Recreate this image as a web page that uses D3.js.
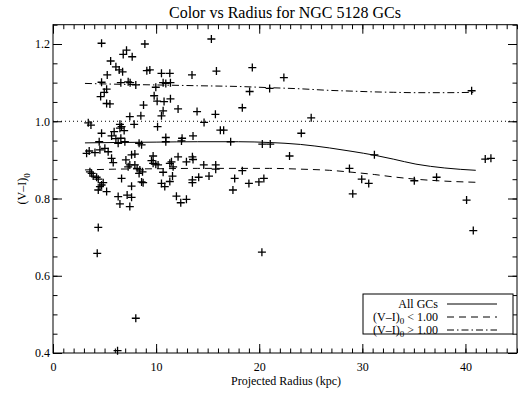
<!DOCTYPE html>
<html lang="en">
<head>
<meta charset="utf-8">
<title>Color vs Radius for NGC 5128 GCs</title>
<script src="https://cdn.jsdelivr.net/npm/d3@7"></script>
<style>
  body { margin: 0; background: #fff; }
  svg text { font-family: "Liberation Serif", "Times New Roman", serif; fill: #000; }
  .tick line { stroke: #000; }
</style>
</head>
<body>
<script>
// globular clusters: projected radius (kpc) and (V-I)0 colour
var radius = [4.71,8.91,7.13,6.81,7.68,5.59,6.10,6.42,6.75,9.10,
  9.39,5.26,4.71,6.58,7.29,7.48,8.03,5.20,4.97,4.62,
  5.20,5.52,9.81,8.78,7.45,8.52,3.42,3.68,6.49,6.65,
  7.87,10.14,4.71,5.68,6.10,6.58,6.90,4.48,6.97,8.35,
  8.59,3.26,4.07,4.55,5.03,5.35,3.58,3.75,3.90,4.23,
  4.39,4.87,4.71,4.55,4.39,5.20,6.32,6.49,7.19,7.62,
  7.45,6.65,7.62,8.59,8.74,5.68,5.84,7.07,7.62,7.94,
  7.45,7.94,8.16,8.42,8.68,8.35,9.55,9.71,9.97,10.19,
  4.39,4.29,8.03,6.26,10.94,12.46,17.23,20.30,21.07,22.94,
  9.71,10.68,10.52,10.84,11.33,11.59,11.33,11.49,11.65,12.13,
  12.94,13.52,13.58,14.62,15.78,15.78,18.36,13.52,13.52,14.13,
  15.13,11.97,12.39,12.94,17.62,17.45,19.00,19.97,20.45,20.26,
  15.36,10.52,11.33,13.48,15.85,19.33,22.39,10.68,10.94,11.39,
  9.97,10.10,10.77,11.39,19.07,21.01,12.13,13.97,15.75,10.68,
  10.52,18.36,25.04,14.65,16.23,16.55,24.08,10.94,12.52,13.58,
  31.17,28.75,29.07,29.94,30.62,35.04,37.20,40.11,40.76,41.92,
  42.47,40.6,5.93,6.49,3.51,7.29,6.32];

var color = [1.202,1.200,1.184,1.173,1.167,1.156,1.141,1.133,1.128,1.131,
  1.133,1.120,1.101,1.100,1.102,1.100,1.094,1.083,1.075,1.064,
  1.046,1.045,1.066,1.042,1.012,1.014,0.996,0.990,0.992,0.986,
  0.992,0.986,0.969,0.962,0.955,0.956,0.976,0.947,0.947,0.943,
  0.939,0.917,0.919,0.926,0.930,0.921,0.869,0.865,0.858,0.855,
  0.850,0.841,0.835,0.831,0.822,0.818,0.805,0.786,0.809,0.803,
  0.779,0.852,0.832,0.843,0.841,0.904,0.893,0.900,0.913,0.915,
  0.887,0.887,0.878,0.874,0.869,0.865,0.898,0.891,0.889,0.887,
  0.725,0.658,0.490,0.406,0.947,0.949,0.947,0.941,0.941,0.910,
  0.910,0.868,0.839,0.831,0.844,0.858,0.891,0.895,0.882,0.908,
  0.895,0.908,0.901,0.887,0.887,0.876,0.872,0.848,0.841,0.855,
  0.858,0.806,0.789,0.798,0.852,0.822,0.839,0.843,0.852,0.661,
  1.213,1.124,1.124,1.120,1.130,1.139,1.113,1.100,1.098,1.100,
  1.088,1.052,1.051,1.058,1.077,1.085,1.032,1.025,1.018,1.027,
  1.014,1.035,1.009,0.997,0.977,0.977,0.969,0.958,0.956,0.962,
  0.913,0.878,0.812,0.850,0.839,0.846,0.855,0.796,0.717,0.902,
  0.904,1.079,0.973,0.982,0.923,0.882,0.943];

// smoothed running means
var curveR    = [3.1, 6, 10, 14, 18, 21, 24, 26.8, 29, 31.2, 33, 35.2, 38, 41];
var meanAll   = [0.944,0.945,0.946,0.947,0.947,0.945,0.940,0.931,0.922,0.912,0.902,0.889,0.879,0.873];
var meanBlue  = [0.874,0.876,0.877,0.878,0.878,0.878,0.876,0.873,0.868,0.862,0.856,0.850,0.845,0.842];
var meanRed   = [1.098,1.096,1.094,1.092,1.090,1.087,1.084,1.080,1.078,1.076,1.075,1.074,1.074,1.075];

var xMajor = [0, 10, 20, 30, 40];
var yMajor = [0.4, 0.6, 0.8, 1.0, 1.2];
var splitColor = 1.0;

var w = 523, h = 393;
var pL = 53, pR = 517, pT = 24.7, pB = 353;

var svg = d3.select("body").append("svg")
  .attr("width", w)
  .attr("height", h);

var x = d3.scaleLinear().domain([0, 45]).range([pL, pR]);
var y = d3.scaleLinear().domain([0.4, 1.25]).range([pB, pT]);

var fmt = d3.format(".1f");

// minor ticks (all four sides, pointing in)
function minorTicks(axis, vals, tr) {
  svg.append("g").attr("transform", tr)
    .call(axis.tickValues(vals).tickSize(-4.5).tickFormat(""))
    .call(function(g) { g.select(".domain").remove(); });
}
var xMinor = d3.range(0, 46, 1);
var yMinor = d3.range(0.4, 1.2501, 0.05);
minorTicks(d3.axisBottom(x), xMinor, "translate(0," + pB + ")");
minorTicks(d3.axisTop(x), xMinor, "translate(0," + pT + ")");
minorTicks(d3.axisLeft(y), yMinor, "translate(" + pL + ",0)");
minorTicks(d3.axisRight(y), yMinor, "translate(" + pR + ",0)");

// major ticks
var xAxis = svg.append("g").attr("transform", "translate(0," + pB + ")")
  .call(d3.axisBottom(x).tickValues(xMajor).tickSize(-9).tickPadding(9).tickFormat(d3.format("d")));
xAxis.select(".domain").remove();
xAxis.selectAll("text").attr("font-size", 12);

svg.append("g").attr("transform", "translate(0," + pT + ")")
  .call(d3.axisTop(x).tickValues(xMajor).tickSize(-9).tickFormat(""))
  .call(function(g) { g.select(".domain").remove(); });

var yAxis = svg.append("g").attr("transform", "translate(" + pL + ",0)")
  .call(d3.axisLeft(y).tickValues(yMajor).tickSize(-9).tickPadding(3).tickFormat(fmt));
yAxis.select(".domain").remove();
yAxis.selectAll("text").attr("font-size", 12);

svg.append("g").attr("transform", "translate(" + pR + ",0)")
  .call(d3.axisRight(y).tickValues(yMajor).tickSize(-9).tickFormat(""))
  .call(function(g) { g.select(".domain").remove(); });

svg.selectAll(".tick line").attr("stroke-width", 1);

// frame
svg.append("rect")
  .attr("x", pL).attr("y", pT)
  .attr("width", pR - pL).attr("height", pB - pT)
  .attr("fill", "none").attr("stroke", "#000").attr("stroke-width", 1);

// dotted split line
svg.append("line")
  .attr("x1", pL).attr("x2", pR)
  .attr("y1", y(splitColor)).attr("y2", y(splitColor))
  .attr("stroke", "#000").attr("stroke-width", 1)
  .attr("stroke-dasharray", "1,3");

// data points as plus signs
var s = 4;
svg.append("g").selectAll("path")
  .data(d3.range(radius.length))
  .enter().append("path")
  .attr("d", function(i) {
    var cx = x(radius[i]), cy = y(color[i]);
    return "M" + (cx - s) + "," + cy + "H" + (cx + s) + "M" + cx + "," + (cy - s) + "V" + (cy + s);
  })
  .attr("stroke", "#000").attr("stroke-width", 1.3).attr("fill", "none");

// mean curves
var line = d3.line()
  .x(function(d) { return x(d[0]); })
  .y(function(d) { return y(d[1]); })
  .curve(d3.curveMonotoneX);

var curves = [
  { vals: meanAll, dash: null },
  { vals: meanBlue, dash: "7,5" },
  { vals: meanRed, dash: "7,3,1.5,3" }
];
curves.forEach(function(c) {
  svg.append("path")
    .datum(curveR.map(function(r, i) { return [r, c.vals[i]]; }))
    .attr("d", line)
    .attr("fill", "none").attr("stroke", "#000").attr("stroke-width", 1)
    .attr("stroke-dasharray", c.dash);
});

// title and axis labels
svg.append("text")
  .attr("x", 285).attr("y", 18)
  .attr("text-anchor", "middle").attr("font-size", 16)
  .text("Color vs Radius for NGC 5128 GCs");

svg.append("text")
  .attr("x", (pL + pR) / 2 + 1).attr("y", 385)
  .attr("text-anchor", "middle").attr("font-size", 12)
  .text("Projected Radius (kpc)");

var yl = svg.append("text")
  .attr("transform", "translate(26," + ((pT + pB) / 2) + ") rotate(-90)")
  .attr("text-anchor", "middle").attr("font-size", 12);
yl.append("tspan").text("(V\u2013I)");
yl.append("tspan").attr("dy", 4).attr("font-size", 9).text("0");

// legend
var lg = svg.append("g");
lg.append("rect")
  .attr("x", 363).attr("y", 294)
  .attr("width", 150).attr("height", 40)
  .attr("fill", "#fff").attr("stroke", "#000").attr("stroke-width", 1);

var legendRows = [
  { label: "All GCs", sub: null, dash: null },
  { label: "(V\u2013I)", sub: "0", rest: " < 1.00", dash: "7,5" },
  { label: "(V\u2013I)", sub: "0", rest: " > 1.00", dash: "7,3,1.5,3" }
];
legendRows.forEach(function(r, i) {
  var ly = 304 + i * 13;
  var t = lg.append("text")
    .attr("x", 438).attr("y", ly + 3.5)
    .attr("text-anchor", "end").attr("font-size", 12);
  t.append("tspan").text(r.label);
  if (r.sub) {
    t.append("tspan").attr("dy", 3.5).attr("font-size", 9).text(r.sub);
    t.append("tspan").attr("dy", -3.5).text(r.rest);
  }
  lg.append("line")
    .attr("x1", 447).attr("x2", 497)
    .attr("y1", ly).attr("y2", ly)
    .attr("stroke", "#000").attr("stroke-width", 1)
    .attr("stroke-dasharray", r.dash);
});
</script>
</body>
</html>
